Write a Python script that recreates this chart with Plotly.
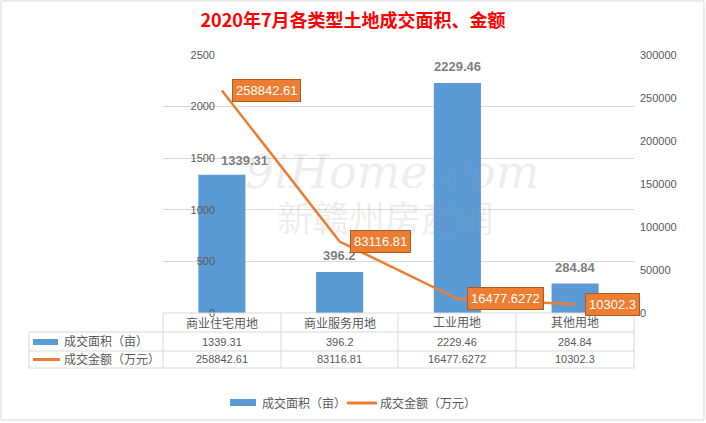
import plotly.graph_objects as go

# ---------------- data ----------------
categories = ["商业住宅用地", "商业服务用地", "工业用地", "其他用地"]
area_values = [1339.31, 396.2, 2229.46, 284.84]          # 成交面积（亩）
amount_values = [258842.61, 83116.81, 16477.6272, 10302.3]  # 成交金额（万元）
area_name = "成交面积（亩）"
amount_name = "成交金额（万元）"
title_text = "2020年7月各类型土地成交面积、金额"
left_ticks = [0, 500, 1000, 1500, 2000, 2500]
right_ticks = [0, 50000, 100000, 150000, 200000, 250000, 300000]

# ---------------- layout geometry ----------------
W, H = 706, 423
L, R, T, B = 163, 72, 55, 110
PW, PH = W - L - R, H - T - B


def px(x):
    return (x - L) / PW


def py(y):
    return (H - B - y) / PH


BLUE = "#5b9bd5"
ORANGE = "#ed7d31"
GRID = "#d9d9d9"
TXT = "#595959"
FONT = "Liberation Sans, Noto Sans CJK SC"

fig = go.Figure()
fig.add_trace(go.Bar(x=categories, y=area_values, name=area_name,
                     marker=dict(color=BLUE, line=dict(width=0)), width=0.4,
                     yaxis="y", showlegend=False, hoverinfo="skip"))
fig.add_trace(go.Scatter(x=categories, y=amount_values, name=amount_name,
                         mode="lines", line=dict(color=ORANGE, width=2.5),
                         yaxis="y2", showlegend=False, hoverinfo="skip"))

annotations = []
# bar value labels
for i, (c, v) in enumerate(zip(categories, area_values)):
    annotations.append(dict(x=c, y=v, xref="x", yref="y", text=str(v),
                            showarrow=False, yanchor="bottom", xanchor="center",
                            yshift=5 if i == 0 else 7,
                            xshift=23 if i == 0 else 0,
                            font=dict(family=FONT, size=13, color="#7f7f7f", weight="bold")))
# line value labels
for c, v in zip(categories, amount_values):
    annotations.append(dict(x=c, y=v, xref="x", yref="y2", text=str(v),
                            showarrow=False, xanchor="left", yanchor="middle",
                            xshift=10, bgcolor=ORANGE, bordercolor="#ae5a21",
                            borderwidth=1, borderpad=3,
                            font=dict(family=FONT, size=13, color="white")))
# data table text
for c, a, m in zip(categories, area_values, amount_values):
    annotations.append(dict(x=c, y=py(323), xref="x", yref="paper", text=c,
                            xanchor="center", yanchor="middle", showarrow=False,
                            font=dict(family=FONT, size=12, color=TXT)))
    annotations.append(dict(x=c, y=py(341.5), xref="x", yref="paper", text=str(a),
                            xanchor="center", yanchor="middle", showarrow=False,
                            font=dict(family=FONT, size=11, color=TXT)))
    annotations.append(dict(x=c, y=py(359.5), xref="x", yref="paper", text=str(m),
                            xanchor="center", yanchor="middle", showarrow=False,
                            font=dict(family=FONT, size=11, color=TXT)))
# table legend column
annotations.append(dict(x=px(62), y=py(341.5), xref="paper", yref="paper", text=area_name,
                        xanchor="left", yanchor="middle", showarrow=False,
                        font=dict(family=FONT, size=12, color=TXT)))
annotations.append(dict(x=px(62), y=py(359.5), xref="paper", yref="paper", text=amount_name,
                        xanchor="left", yanchor="middle", showarrow=False,
                        font=dict(family=FONT, size=12, color=TXT)))
# bottom legend
annotations.append(dict(x=px(260), y=py(403), xref="paper", yref="paper", text=area_name,
                        xanchor="left", yanchor="middle", showarrow=False,
                        font=dict(family=FONT, size=12, color=TXT)))
annotations.append(dict(x=px(378), y=py(403), xref="paper", yref="paper", text=amount_name,
                        xanchor="left", yanchor="middle", showarrow=False,
                        font=dict(family=FONT, size=12, color=TXT)))
# watermark
annotations.append(dict(x=px(392), y=py(172), xref="paper", yref="paper", text="9iHome.com",
                        xanchor="center", yanchor="middle", showarrow=False,
                        font=dict(family="DejaVu Serif", size=46, color="rgba(150,150,150,0.18)",
                                  style="italic")))
annotations.append(dict(x=px(385), y=py(216), xref="paper", yref="paper", text="新赣州房產網",
                        xanchor="center", yanchor="middle", showarrow=False,
                        font=dict(family="Noto Sans CJK SC", size=36, color="rgba(150,150,150,0.18)")))

shapes = []


def hline(x0, x1, y):
    shapes.append(dict(type="line", xref="paper", yref="paper", x0=px(x0), x1=px(x1),
                       y0=py(y), y1=py(y), line=dict(color=GRID, width=1)))


def vline(x, y0, y1):
    shapes.append(dict(type="line", xref="paper", yref="paper", x0=px(x), x1=px(x),
                       y0=py(y0), y1=py(y1), line=dict(color=GRID, width=1)))


hline(163, 634, 313)
for yy in (332, 351, 368):
    hline(29, 634, yy)
for xx in (163, 281, 398, 516, 634):
    vline(xx, 313, 368)
vline(29, 332, 368)
# table legend keys
shapes.append(dict(type="rect", xref="paper", yref="paper", x0=px(33), x1=px(58),
                   y0=py(345), y1=py(339), fillcolor=BLUE, line=dict(width=0)))
shapes.append(dict(type="line", xref="paper", yref="paper", x0=px(33), x1=px(60),
                   y0=py(359.5), y1=py(359.5), line=dict(color=ORANGE, width=3)))
# bottom legend keys
shapes.append(dict(type="rect", xref="paper", yref="paper", x0=px(230), x1=px(256),
                   y0=py(406), y1=py(399), fillcolor=BLUE, line=dict(width=0)))
shapes.append(dict(type="line", xref="paper", yref="paper", x0=px(347), x1=px(377),
                   y0=py(403), y1=py(403), line=dict(color=ORANGE, width=3)))
# outer border
shapes.append(dict(type="rect", xref="paper", yref="paper", x0=px(1), x1=px(704),
                   y0=py(420), y1=py(1), line=dict(color=GRID, width=1)))

fig.update_layout(
    width=W, height=H, autosize=False,
    margin=dict(l=L, r=R, t=T, b=B, pad=0),
    paper_bgcolor="white", plot_bgcolor="white",
    title=dict(text=title_text, x=0.5, xref="container", xanchor="center",
               y=1 - 21 / H, yref="container", yanchor="middle",
               font=dict(family="Noto Sans CJK SC", size=18, color="#ff0000", weight="bold")),
    xaxis=dict(type="category", range=[-0.5, 3.5], showticklabels=False,
               showgrid=False, showline=False, zeroline=False, ticks=""),
    yaxis=dict(range=[0, 2500], tickvals=left_ticks, tickformat="d",
               showgrid=True, gridcolor=GRID, gridwidth=1, zeroline=False,
               showline=False, ticks="", anchor="free", position=px(215),
               tickfont=dict(family=FONT, size=11, color=TXT)),
    yaxis2=dict(range=[0, 300000], tickvals=right_ticks, tickformat="d",
                overlaying="y", side="right", showgrid=False, zeroline=False,
                showline=False, ticks="", ticklabelstandoff=5,
                tickfont=dict(family=FONT, size=11, color=TXT)),
    annotations=annotations, shapes=shapes, showlegend=False,
)

fig.write_html("out.html", config={"displayModeBar": False},
               post_script="document.body.style.margin='0px';document.body.style.padding='0px';")
